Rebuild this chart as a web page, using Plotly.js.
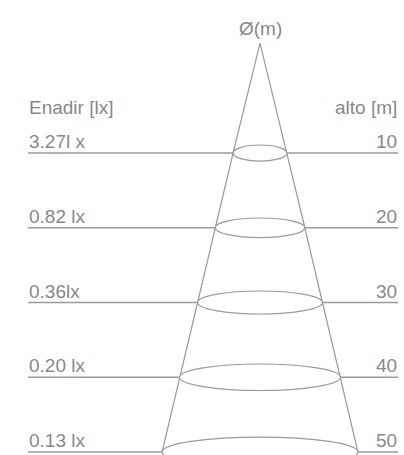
<!DOCTYPE html>
<html>
<head>
<meta charset="utf-8">
<script src="https://cdn.plot.ly/plotly-3.0.1.min.js"></script>
<style>html,body{margin:0;padding:0;background:#fff;}#chart{width:404px;height:455px;}</style>
</head>
<body>
<div id="chart"></div>
<script>
// ---- data ----
var heights = [10, 20, 30, 40, 50];                       // alto [m]
var illuminance = ['3.27l x', '0.82 lx', '0.36lx', '0.20 lx', '0.13 lx']; // Enadir [lx]
var diameters = [7.2, 12.0, 16.7, 21.5, 26.2];            // Ø (m) beam diameter at each height
var apexHeight = -4.7;                                     // cone apex (source) position
var headerLeft = 'Enadir [lx]';
var headerRight = 'alto [m]';
var headerTop = 'Ø(m)';

// ---- styles ----
var GREY_TEXT = '#888888';
var GREY_LINE = '#9a9a9a';
var FONT = {family: '"Liberation Sans", Arial, sans-serif', size: 19, color: GREY_TEXT};
var LEFT_X = 28 / 404, RIGHT_X = 398 / 404;

// cone outline: left side bottom-to-top, apex, right side top-to-bottom
var coneX = [], coneY = [];
for (var i = heights.length - 1; i >= 0; i--) { coneX.push(-diameters[i] / 2); coneY.push(heights[i]); }
coneX.push(0); coneY.push(apexHeight);
for (var j = 0; j < heights.length; j++) { coneX.push(diameters[j] / 2); coneY.push(heights[j]); }

var traces = [{
  x: coneX, y: coneY, type: 'scatter', mode: 'lines',
  line: {color: GREY_LINE, width: 1.2}, hoverinfo: 'skip', showlegend: false
}];

var shapes = [];
var annotations = [];
heights.forEach(function (h, k) {
  shapes.push({type: 'line', xref: 'paper', yref: 'y', x0: LEFT_X, x1: RIGHT_X, y0: h, y1: h,
    line: {color: GREY_LINE, width: 1.3}, layer: 'above'});
});
heights.forEach(function (h, k) {
  var rx = diameters[k] / 2;
  var ry = 0.72 + 0.049 * diameters[k];   // perspective flattening of the beam section
  shapes.push({type: 'circle', xref: 'x', yref: 'y', x0: -rx, x1: rx, y0: h - ry, y1: h + ry,
    fillcolor: '#ffffff', line: {color: GREY_LINE, width: 1.2}, layer: 'above'});
  annotations.push({xref: 'paper', yref: 'y', x: LEFT_X, y: h, xanchor: 'left', yanchor: 'bottom',
    text: illuminance[k], showarrow: false, font: FONT, borderpad: 0});
  annotations.push({xref: 'paper', yref: 'y', x: RIGHT_X, y: h, xanchor: 'right', yanchor: 'bottom',
    text: String(h), showarrow: false, font: FONT, borderpad: 0});
});
annotations.push({xref: 'paper', yref: 'paper', x: LEFT_X, y: 1 - 119 / 455, xanchor: 'left', yanchor: 'bottom',
  text: headerLeft, showarrow: false, font: FONT, borderpad: 0});
annotations.push({xref: 'paper', yref: 'paper', x: RIGHT_X, y: 1 - 119 / 455, xanchor: 'right', yanchor: 'bottom',
  text: headerRight, showarrow: false, font: FONT, borderpad: 0});
annotations.push({xref: 'x', yref: 'paper', x: 0, y: 1 - 40 / 455, xanchor: 'center', yanchor: 'bottom',
  text: headerTop, showarrow: false, font: FONT, borderpad: 0});

var layout = {
  width: 404, height: 455,
  margin: {l: 0, r: 0, t: 0, b: 0},
  paper_bgcolor: '#ffffff', plot_bgcolor: '#ffffff',
  xaxis: {range: [-34.78, 19.26], visible: false, fixedrange: true},
  yaxis: {range: [50.4, -10.47], visible: false, fixedrange: true},
  shapes: shapes,
  annotations: annotations,
  showlegend: false
};

Plotly.newPlot('chart', traces, layout, {displayModeBar: false, staticPlot: true});
</script>
</body>
</html>
